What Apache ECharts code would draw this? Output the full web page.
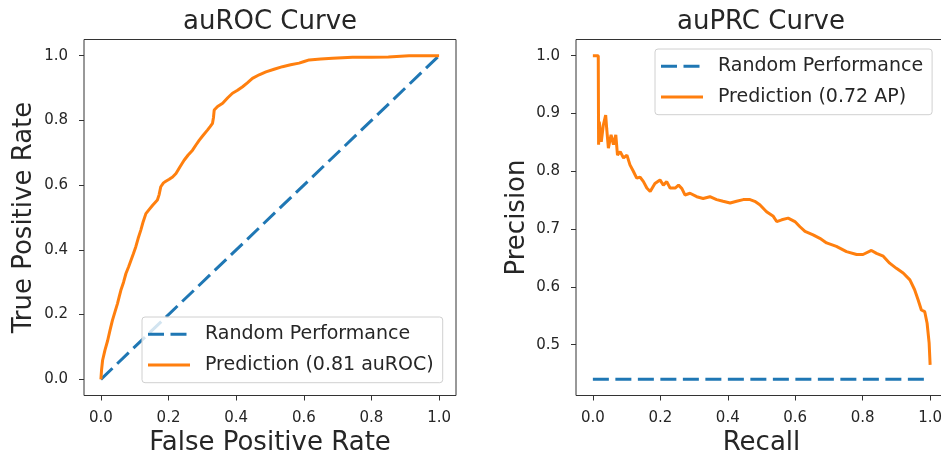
<!DOCTYPE html>
<html>
<head>
<meta charset="utf-8">
<script src="https://cdn.jsdelivr.net/npm/echarts@6/dist/echarts.min.js"></script>
<style>
  html, body { margin: 0; padding: 0; background: #fff; }
  #chart { width: 941px; height: 454px; }
</style>
</head>
<body>
<div id="chart"></div>
<script>
// ROC curve
let rocFpr = [0, 0.002, 0.005, 0.012, 0.02, 0.027, 0.034, 0.042, 0.049, 0.054, 0.059, 0.067, 0.074, 0.082, 0.089, 0.096, 0.103, 0.11, 0.118, 0.125, 0.133, 0.143, 0.153, 0.167, 0.172, 0.177, 0.185, 0.192, 0.202, 0.212, 0.222, 0.234, 0.246, 0.258, 0.271, 0.281, 0.291, 0.303, 0.315, 0.323, 0.33, 0.333, 0.335, 0.345, 0.36, 0.375, 0.389, 0.404, 0.419, 0.433, 0.448, 0.468, 0.488, 0.512, 0.537, 0.561, 0.586, 0.601, 0.616, 0.65, 0.685, 0.744, 0.8, 0.85, 0.911, 0.95, 1.0];
let rocTpr = [0, 0.03, 0.059, 0.09, 0.12, 0.152, 0.182, 0.21, 0.234, 0.255, 0.275, 0.3, 0.327, 0.348, 0.368, 0.388, 0.409, 0.435, 0.461, 0.487, 0.512, 0.525, 0.538, 0.554, 0.57, 0.595, 0.607, 0.612, 0.618, 0.625, 0.636, 0.657, 0.677, 0.693, 0.708, 0.724, 0.739, 0.755, 0.77, 0.781, 0.791, 0.81, 0.832, 0.843, 0.853, 0.87, 0.884, 0.893, 0.904, 0.916, 0.93, 0.941, 0.95, 0.958, 0.966, 0.972, 0.977, 0.982, 0.987, 0.99, 0.992, 0.995, 0.995, 0.996, 1.0, 1.0, 1.0];
let rocRandomX = [0, 1];
let rocRandomY = [0, 1];

// PR curve
let prRecall = [0, 0.016, 0.017, 0.019, 0.025, 0.031, 0.038, 0.041, 0.046, 0.054, 0.061, 0.068, 0.073, 0.081, 0.091, 0.101, 0.11, 0.12, 0.13, 0.14, 0.15, 0.16, 0.17, 0.184, 0.199, 0.209, 0.219, 0.229, 0.244, 0.254, 0.264, 0.273, 0.288, 0.308, 0.327, 0.347, 0.367, 0.386, 0.407, 0.426, 0.446, 0.466, 0.48, 0.495, 0.515, 0.535, 0.545, 0.56, 0.579, 0.599, 0.614, 0.629, 0.653, 0.673, 0.693, 0.722, 0.752, 0.782, 0.801, 0.826, 0.841, 0.861, 0.88, 0.9, 0.92, 0.94, 0.954, 0.964, 0.974, 0.984, 0.991, 0.997, 1.0];
let prPrecision = [1.0, 1.0, 0.846, 0.886, 0.851, 0.88, 0.897, 0.874, 0.84, 0.863, 0.846, 0.863, 0.828, 0.834, 0.823, 0.828, 0.811, 0.8, 0.788, 0.79, 0.782, 0.771, 0.765, 0.779, 0.785, 0.776, 0.782, 0.771, 0.771, 0.776, 0.77, 0.759, 0.762, 0.756, 0.753, 0.756, 0.751, 0.748, 0.745, 0.748, 0.751, 0.751, 0.748, 0.742, 0.73, 0.722, 0.713, 0.716, 0.719, 0.713, 0.704, 0.696, 0.69, 0.684, 0.676, 0.67, 0.661, 0.656, 0.656, 0.663, 0.658, 0.653, 0.641, 0.632, 0.624, 0.612, 0.595, 0.578, 0.56, 0.557, 0.537, 0.503, 0.465];
let prRandomX = [0, 1];
let prRandomY = [0.44, 0.44];

// tick labels
let unitTicks = [0, 0.2, 0.4, 0.6, 0.8, 1.0];
let precisionTicks = [0.5, 0.6, 0.7, 0.8, 0.9, 1.0];

let zip = (xs, ys) => xs.map((x, i) => [x, ys[i]]);

let blue = "#1f77b4";
let orange = "#ff7f0e";
let textColor = "#262626";
let font = "DejaVu Sans";

function makeAxis(gridIndex, min, max, ticks, name, type, gap) {
  let isX = type === "x";
  return {
    type: "value",
    gridIndex: gridIndex,
    min: min,
    max: max,
    name: name,
    nameLocation: "middle",
    nameGap: gap,
    nameTextStyle: { fontFamily: font, fontSize: 26, color: textColor },
    axisLine: { show: false, onZero: false },
    axisTick: {
      show: true,
      length: 5,
      customValues: ticks,
      lineStyle: { color: "#333", width: 1 }
    },
    axisLabel: {
      customValues: ticks,
      margin: isX ? 15 : 16,
      fontFamily: font,
      fontSize: 15,
      color: textColor,
      formatter: function(v) {
        return v.toFixed(1);
      }
    },
    splitLine: { show: false }
  };
}

function makeLegend(left, top, names) {
  return {
    orient: "vertical",
    left: left,
    top: top,
    data: names,
    itemWidth: 42,
    itemHeight: 20,
    itemGap: 11.7,
    padding: [7.7, 9, 8.3, 4.5],
    backgroundColor: "rgba(255,255,255,0.8)",
    borderColor: "#d0d0d0",
    borderWidth: 1,
    borderRadius: 3,
    selectedMode: false,
    itemStyle: { opacity: 0 },
    lineStyle: { width: 3 },
    textStyle: {
      fontFamily: font,
      fontSize: 19,
      color: textColor,
      padding: [0, 0, 0, 10]
    }
  };
}

let chart = echarts.init(document.getElementById("chart"));
let option = {
  animation: false,
  backgroundColor: "#fff",
  title: [
    {
      text: "auROC Curve",
      left: 270,
      top: 9,
      textAlign: "center",
      padding: 0,
      textStyle: { fontFamily: font, fontSize: 26, fontWeight: "normal", color: textColor }
    },
    {
      text: "auPRC Curve",
      left: 761,
      top: 9,
      textAlign: "center",
      padding: 0,
      textStyle: { fontFamily: font, fontSize: 26, fontWeight: "normal", color: textColor }
    }
  ],
  legend: [
    makeLegend(142, 317, ["Random Performance", "Prediction (0.81 auROC)"]),
    makeLegend(655, 49, ["Random Performance", "Prediction (0.72 AP)"])
  ],
  grid: [
    { left: 84, right: 485, top: 39.5, bottom: 58.5, show: true, borderColor: "#333", borderWidth: 1, containLabel: false, outerBoundsMode: "none" },
    { left: 576, right: -6, top: 39.5, bottom: 58.5, show: true, borderColor: "#333", borderWidth: 1, containLabel: false, outerBoundsMode: "none" }
  ],
  xAxis: [
    makeAxis(0, -0.05, 1.05, unitTicks, "False Positive Rate", "x", 31),
    makeAxis(1, -0.05, 1.05, unitTicks, "Recall", "x", 31)
  ],
  yAxis: [
    makeAxis(0, -0.05, 1.05, unitTicks, "True Positive Rate", "y", 47),
    makeAxis(1, 0.412, 1.028, precisionTicks, "Precision", "y", 46)
  ],
  series: [
    {
      name: "Random Performance",
      type: "line",
      xAxisIndex: 0,
      yAxisIndex: 0,
      data: zip(rocRandomX, rocRandomY),
      symbol: "none",
      color: blue,
      lineStyle: { color: blue, width: 3, type: [16, 6.5] }
    },
    {
      name: "Prediction (0.81 auROC)",
      type: "line",
      xAxisIndex: 0,
      yAxisIndex: 0,
      data: zip(rocFpr, rocTpr),
      symbol: "none",
      color: orange,
      lineStyle: { color: orange, width: 3 }
    },
    {
      name: "Random Performance",
      type: "line",
      xAxisIndex: 1,
      yAxisIndex: 1,
      data: zip(prRandomX, prRandomY),
      symbol: "none",
      color: blue,
      lineStyle: { color: blue, width: 3, type: [16, 6.5] }
    },
    {
      name: "Prediction (0.72 AP)",
      type: "line",
      xAxisIndex: 1,
      yAxisIndex: 1,
      data: zip(prRecall, prPrecision),
      symbol: "none",
      color: orange,
      lineStyle: { color: orange, width: 3 }
    }
  ]
};
chart.setOption(option);
</script>
</body>
</html>
